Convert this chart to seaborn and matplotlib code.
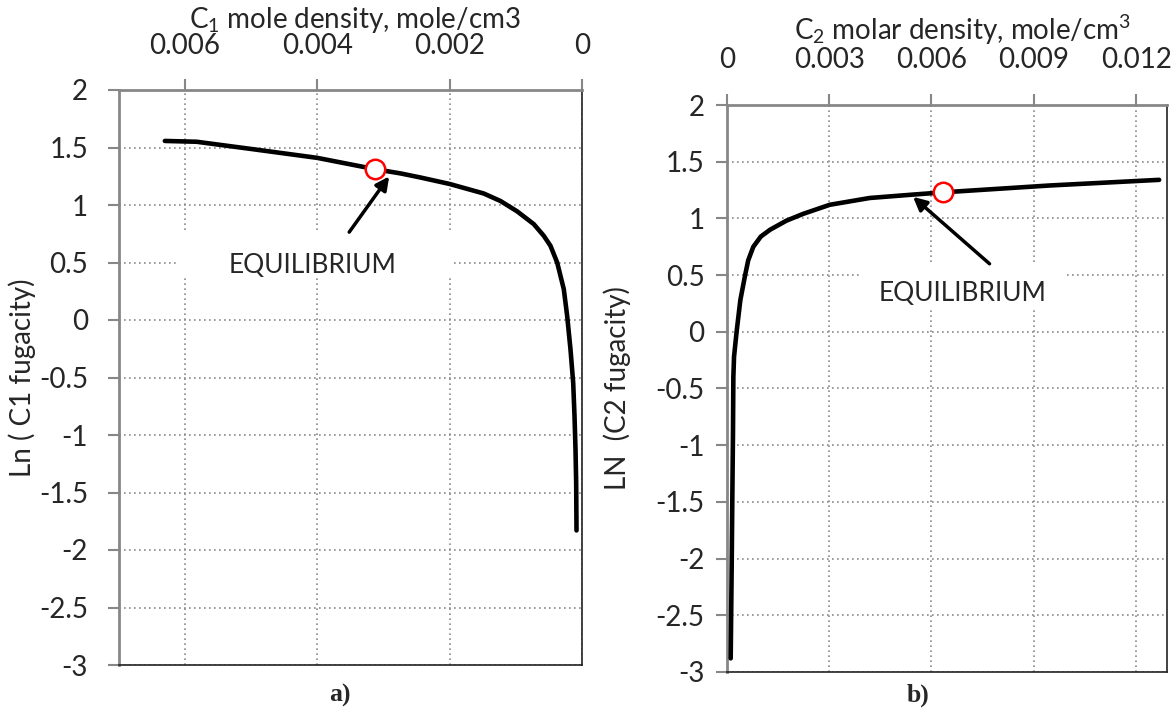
import numpy as np
import pandas as pd
import matplotlib
matplotlib.use("Agg")
import matplotlib.pyplot as plt
from matplotlib.patches import Rectangle
import seaborn as sns

# ---- data ----
c1_density = [0.0063, 0.00582, 0.004967, 0.0040, 0.00313, 0.002744, 0.002447, 0.0020,
              0.001484, 0.001232, 0.00098, 0.000729, 0.000577, 0.000476, 0.000375,
              0.000275, 0.000224, 0.000174, 0.000133, 0.000113, 0.000098, 0.000088, 0.000083]
c1_ln_fug = [1.557, 1.55, 1.485, 1.41, 1.312, 1.275, 1.24, 1.183,
             1.10, 1.035, 0.945, 0.834, 0.732, 0.645, 0.50,
             0.268, 0.035, -0.255, -0.546, -0.837, -1.127, -1.418, -1.83]
c1_eq = (0.00313, 1.312)

c2_density = [0.000117, 0.000146, 0.000164, 0.000184, 0.000195, 0.000215, 0.00029,
              0.0004, 0.00054, 0.00063, 0.00078, 0.0010, 0.00127, 0.00175, 0.00224,
              0.00302, 0.00419, 0.00546, 0.00635, 0.00945, 0.01267]
c2_ln_fug = [-2.88, -2.07, -1.49, -0.9, -0.4, -0.22, 0.0,
             0.28, 0.5, 0.63, 0.75, 0.84, 0.90, 0.98, 1.04,
             1.12, 1.18, 1.21, 1.23, 1.29, 1.34]
c2_eq = (0.00635, 1.23)

x1_ticks = [0.006, 0.004, 0.002, 0.0]
x1_ticklabels = ["0.006", "0.004", "0.002", "0"]
x2_ticks = [0.0, 0.003, 0.006, 0.009, 0.012]
x2_ticklabels = ["0", "0.003", "0.006", "0.009", "0.012"]
y_ticks = [2, 1.5, 1, 0.5, 0, -0.5, -1, -1.5, -2, -2.5, -3]
y_ticklabels = ["2", "1.5", "1", "0.5", "0", "-0.5", "-1", "-1.5", "-2", "-2.5", "-3"]

sns.set_style("white")
FONT = "Lato"
plt.rcParams["font.family"] = [FONT, "DejaVu Sans"]
plt.rcParams["mathtext.fontset"] = "custom"
plt.rcParams["mathtext.rm"] = FONT
plt.rcParams["mathtext.it"] = FONT
plt.rcParams["mathtext.bf"] = FONT

W, H = 1175, 719
fig = plt.figure(figsize=(W / 100, H / 100), dpi=100)

def fx(px):
    return px / W

def fy(py):
    return 1 - py / H

ax1 = fig.add_axes([fx(118.5), fy(665), fx(582 - 118.5), (665 - 90) / H])
ax2 = fig.add_axes([fx(726.7), fy(672), fx(1167 - 726.7), (672 - 105) / H])

GRAY = "#878787"
FS = 20

def style(ax, xlim, xticks, xlabels, ylab_pad, xlab_pad):
    ax.set_xlim(*xlim)
    ax.set_ylim(-3, 2)
    ax.xaxis.tick_top()
    ax.xaxis.set_label_position("top")
    ax.set_xticks(xticks)
    ax.set_xticklabels(xlabels)
    ax.set_yticks(y_ticks)
    ax.set_yticklabels(y_ticklabels)
    ax.tick_params(axis="x", which="major", direction="out", length=8, width=1.5,
                   color=GRAY, labelsize=FS, pad=xlab_pad, top=True, bottom=False)
    ax.tick_params(axis="y", which="major", direction="out", length=8, width=1.5,
                   color=GRAY, labelsize=FS, pad=ylab_pad, left=True)
    ax.grid(True, linestyle=(0, (1, 2)), color="#8a8a8a", linewidth=1.2)
    for s in ["left", "top"]:
        ax.spines[s].set_color(GRAY)
        ax.spines[s].set_linewidth(2)
    for s in ["right", "bottom"]:
        ax.spines[s].set_color("#222222")
        ax.spines[s].set_linewidth(1.2)
    ax.set_axisbelow(True)

style(ax1, (0.007, 0.0), x1_ticks, x1_ticklabels, 14, 14)
style(ax2, (0.0, 0.0129), x2_ticks, x2_ticklabels, 8, 15)

df1 = pd.DataFrame({"x": c1_density, "y": c1_ln_fug})
df2 = pd.DataFrame({"x": c2_density, "y": c2_ln_fug})
sns.lineplot(data=df1, x="x", y="y", ax=ax1, sort=False, estimator=None,
             color="black", linewidth=3.3, zorder=3)
sns.lineplot(data=df2, x="x", y="y", ax=ax2, sort=False, estimator=None,
             color="black", linewidth=3.3, zorder=3)

for ax, eq in [(ax1, c1_eq), (ax2, c2_eq)]:
    ax.plot([eq[0]], [eq[1]], marker="o", markersize=14, markerfacecolor="white",
            markeredgecolor="red", markeredgewidth=1.8, zorder=5, linestyle="none")

# white text boxes (hide gridlines behind the labels)
ax1.add_patch(Rectangle((0.00196, 0.365), 0.00613 - 0.00196, 0.757 - 0.365,
                        facecolor="white", edgecolor="none", zorder=1.5))
ax2.add_patch(Rectangle((0.0039, 0.218), 0.00992 - 0.0039, 0.606 - 0.218,
                        facecolor="white", edgecolor="none", zorder=1.5))

ax1.text(0.00407, 0.473, "EQUILIBRIUM", fontsize=FS - 1, ha="center", va="center", zorder=4)
ax2.text(0.00691, 0.34, "EQUILIBRIUM", fontsize=FS - 1, ha="center", va="center", zorder=4)

arrow = dict(arrowstyle="-|>", color="black", lw=2.5, mutation_scale=20,
             shrinkA=0, shrinkB=0)
ax1.annotate("", xy=(0.002912, 1.249), xytext=(0.003516, 0.764), arrowprops=arrow, zorder=4)
ax2.annotate("", xy=(0.00546, 1.19), xytext=(0.0077, 0.60), arrowprops=arrow, zorder=4)

ax1.set_xlabel(r"C$_{\mathrm{1}}$ mole density, mole/cm3", fontsize=FS)
ax2.set_xlabel(r"C$_{\mathrm{2}}$ molar density, mole/cm$^{\mathrm{3}}$", fontsize=FS)
ax1.xaxis.label.set_va("baseline")
ax2.xaxis.label.set_va("baseline")
ax1.xaxis.set_label_coords(0.510, 1 + (90 - 28) / 575)
ax2.xaxis.set_label_coords(0.5355, 1 + (105 - 40) / 567)

ax1.set_ylabel("Ln ( C1 fugacity)", fontsize=FS)
ax2.set_ylabel("LN  (C2 fugacity)", fontsize=FS)
ax1.yaxis.label.set_va("center")
ax2.yaxis.label.set_va("center")
ax1.yaxis.set_label_coords((22 - 118.5) / 463.5, 0.5)
ax2.yaxis.set_label_coords((617 - 726.7) / 440.3, 0.5)

fig.text(fx(340), fy(695), "a)", fontsize=18.5, fontweight="bold",
         family="Liberation Serif", ha="center", va="center")
fig.text(fx(918), fy(695), "b)", fontsize=18.5, fontweight="bold",
         family="Liberation Serif", ha="center", va="center")

fig.savefig("out.png", dpi=100)
